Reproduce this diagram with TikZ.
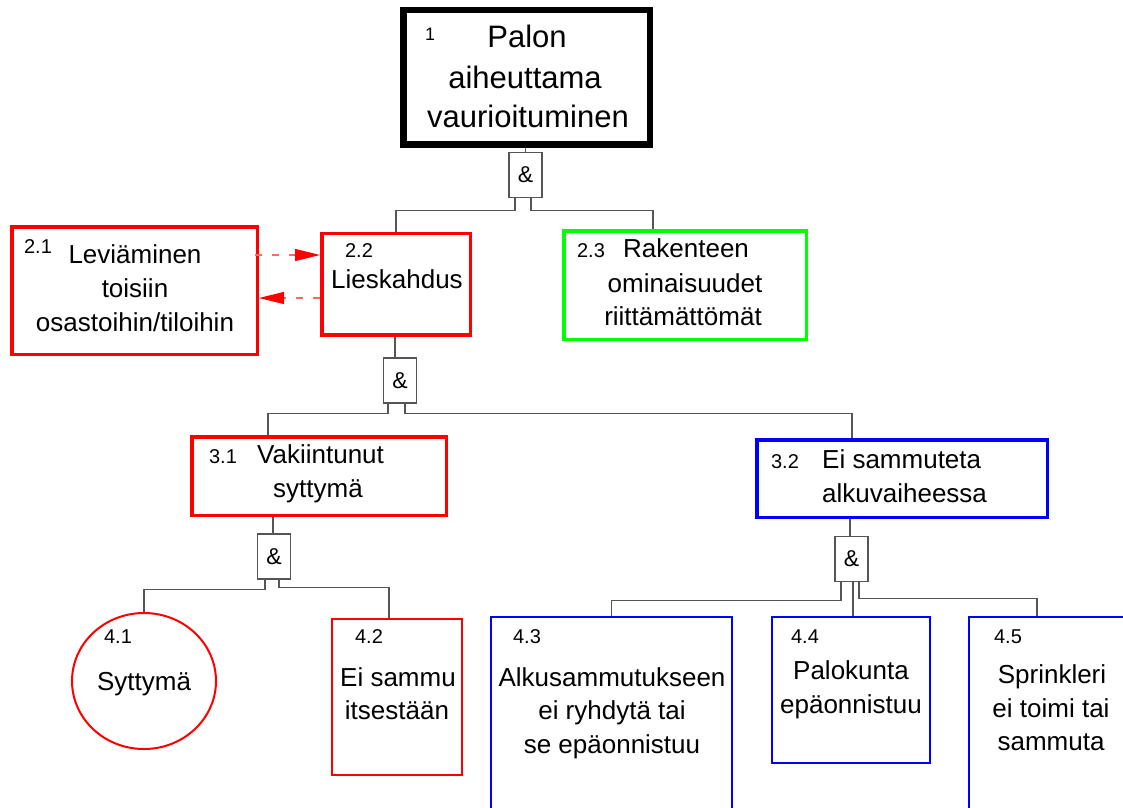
\documentclass[tikz,border=0pt]{standalone}
\usepackage{fontspec}
\setmainfont{Liberation Sans}
\usetikzlibrary{arrows.meta,shapes.geometric}
\newcommand\ftx{\fontsize{26}{30}\selectfont}
\newcommand\flb{\fontsize{20}{24}\selectfont}
\newcommand\fone{\fontsize{18}{22}\selectfont}
\newcommand\fbg{\fontsize{31}{36}\selectfont}
\newcommand\famp{\fontsize{23}{26}\selectfont}
\definecolor{cred}{RGB}{255,0,0}
\definecolor{cgreen}{RGB}{0,255,0}
\definecolor{cblue}{RGB}{0,0,255}
\definecolor{cline}{RGB}{85,85,85}
\begin{document}
\begin{tikzpicture}[x=1pt,y=-1pt,
  box/.style={draw, rectangle, inner sep=0pt},
  thickred/.style={box, draw=cred, line width=3.5pt},
  thinred/.style={box, draw=cred, line width=2pt},
  thickblue/.style={box, draw=cblue, line width=3.5pt},
  thinblue/.style={box, draw=cblue, line width=2pt},
  gate/.style={draw=cline, line width=1.2pt, rectangle, inner sep=0pt, minimum width=33pt, minimum height=45pt, font=\famp},
  conn/.style={draw=cline, line width=1.2pt},
  dar/.style={draw=cred!60, line width=1.1pt, dash pattern=on 7pt off 10pt, -{Triangle[length=25pt,width=12pt,color=cred]}},
  tx/.style={inner sep=0pt, font=\ftx},
  lb/.style={inner sep=0pt, font=\flb},
  tb/.style={inner sep=0pt, font=\fbg}]
\useasboundingbox (0,0) rectangle (1123,807);
\clip (0,0) rectangle (1123,807);
\fill[white] (0,0) rectangle (1123,807);

% boxes
\node[box, draw=black, line width=6.5pt, minimum width=246.5pt, minimum height=134.5pt] (b1) at (526.75,77.25) {};
\node[thickred, minimum width=245.5pt, minimum height=127.5pt] (b21) at (134.5,290.5) {};
\node[thickred, minimum width=148.5pt, minimum height=101.5pt] (b22) at (396,284.2) {};
\node[box, draw=cgreen, line width=3.5pt, minimum width=242.5pt, minimum height=108.5pt] (b23) at (685,285) {};
\node[thickred, minimum width=254.5pt, minimum height=78.5pt] (b31) at (319,476) {};
\node[thickblue, minimum width=290.5pt, minimum height=77.5pt] (b32) at (902,478.5) {};
\node[draw=cred, line width=2pt, ellipse, inner sep=0pt, minimum width=144pt, minimum height=136pt] (c41) at (144,681) {};
\node[thinred, minimum width=130pt, minimum height=156pt] (b42) at (397,697) {};
\node[thinblue, minimum width=241pt, minimum height=283pt] (b43) at (611.5,758) {};
\node[thinblue, minimum width=158pt, minimum height=146pt] (b44) at (851,690) {};
\node[thinblue, minimum width=230pt, minimum height=282pt] (b45) at (1084,758) {};

% gates
\node[gate] (g1) at (525.5,175) {\&};
\node[gate] (g2) at (400,380.5) {\&};
\node[gate] (g3) at (274,556.5) {\&};
\node[gate] (g4) at (851.5,559) {\&};

% connectors
\draw[conn] (g1.north) -- (g1.north |- b1.south);
\draw[conn] ([xshift=-10.5pt]g1.south) -- ++(0,12) -| (b22.north);
\draw[conn] ([xshift=5.5pt]g1.south) -- ++(0,12) -| ([xshift=-32pt]b23.north);
\draw[conn] ([xshift=-1pt]b22.south) -- ([xshift=-5pt]g2.north);
\draw[conn] ([xshift=-12pt]g2.south) -- ++(0,10) -| ([xshift=-51pt]b31.north);
\draw[conn] ([xshift=5pt]g2.south) -- ++(0,10) -| ([xshift=-50pt]b32.north);
\draw[conn] ([xshift=-1pt]g3.north) -- ([xshift=-1pt]g3.north |- b31.south);
\draw[conn] ([xshift=-9pt]g3.south) -- ++(0,10) -| (c41.north);
\draw[conn] ([xshift=5pt]g3.south) -- ++(0,8) -| ([xshift=-8pt]b42.north);
\draw[conn] ([xshift=-1.5pt]g4.north) -- ([xshift=-1.5pt]g4.north |- b32.south);
\draw[conn] ([xshift=-10.5pt]g4.south) -- ++(0,18) -| (b43.north);
\draw[conn] ([xshift=1.5pt]g4.south) -- ([xshift=1.5pt]g4.south |- b44.north);
\draw[conn] ([xshift=7.5pt]g4.south) -- ++(0,16) -| ([xshift=-47pt]b45.north);

% dashed arrows
\draw[dar] ([xshift=-4pt,yshift=35.5pt]b21.east) -- ([yshift=29.2pt]b22.west);
\draw[dar] ([yshift=-13.8pt]b22.west) -- ([yshift=-7.5pt]b21.east);

% texts
\node[lb, font=\fone, anchor=base] (n1) at (430,40) {1};
\node[tb, anchor=base] (t1a) at (527,47) {Palon};
\node[tb, anchor=base] (t1b) at (525,88) {aiheuttama};
\node[tb, anchor=base] (t1c) at (528,127) {vaurioituminen};

\node[lb, anchor=base] (n21) at (38,253) {2.1};
\node[tx, anchor=base] (t21a) at (135,263) {Leviäminen};
\node[tx, anchor=base] (t21b) at (135,297) {toisiin};
\node[tx, anchor=base] (t21c) at (135,331) {osastoihin/tiloihin};

\node[lb, anchor=base] (n22) at (359,257) {2.2};
\node[tx, anchor=base] (t22a) at (397,288) {Lieskahdus};

\node[lb, anchor=base] (n23) at (591,257) {2.3};
\node[tx, anchor=base west] (t23a) at (623,257) {Rakenteen};
\node[tx, anchor=base] (t23b) at (685,292) {ominaisuudet};
\node[tx, anchor=base] (t23c) at (683,325) {riittämättömät};

\node[lb, anchor=base] (n31) at (223,463) {3.1};
\node[tx, anchor=base west] (t31a) at (257,463) {Vakiintunut};
\node[tx, anchor=base west] (t31b) at (273,497) {syttymä};

\node[lb, anchor=base] (n32) at (785,468) {3.2};
\node[tx, anchor=base west] (t32a) at (822,468) {Ei sammuteta};
\node[tx, anchor=base west] (t32b) at (822,502) {alkuvaiheessa};

\node[lb, anchor=base] (n41) at (118,643) {4.1};
\node[tx, anchor=base] (t41a) at (144,690) {Syttymä};

\node[lb, anchor=base] (n42) at (369,643) {4.2};
\node[tx, anchor=base] (t42a) at (398,686) {Ei sammu};
\node[tx, anchor=base] (t42b) at (397,719) {itsestään};

\node[lb, anchor=base] (n43) at (527,643) {4.3};
\node[tx, anchor=base] (t43a) at (612,686) {Alkusammutukseen};
\node[tx, anchor=base] (t43b) at (612,719) {ei ryhdytä tai};
\node[tx, anchor=base] (t43c) at (612,753) {se epäonnistuu};

\node[lb, anchor=base] (n44) at (805,643) {4.4};
\node[tx, anchor=base] (t44a) at (851,679) {Palokunta};
\node[tx, anchor=base] (t44b) at (851,713) {epäonnistuu};

\node[lb, anchor=base] (n45) at (1008,643) {4.5};
\node[tx, anchor=base] (t45a) at (1052,683) {Sprinkleri};
\node[tx, anchor=base] (t45b) at (1051,717) {ei toimi tai};
\node[tx, anchor=base] (t45c) at (1051,750) {sammuta};
\end{tikzpicture}
\end{document}
